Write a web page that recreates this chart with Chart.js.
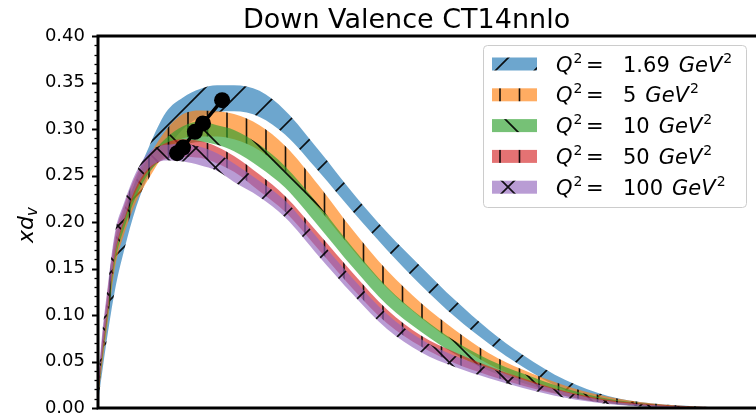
<!DOCTYPE html>
<html>
<head>
<meta charset="utf-8">
<script src="https://cdn.jsdelivr.net/npm/chart.js@4.4.0/dist/chart.umd.min.js"></script>
<style>
  html, body { margin: 0; padding: 0; background: #fff; }
  body { width: 756px; height: 415px; overflow: hidden; position: relative; }
  #plot { position: absolute; left: 0; top: 0; }
</style>
</head>
<body>
<canvas id="plot" width="960" height="450"></canvas>
<script>
const FONT = '"DejaVu Sans", sans-serif';

// momentum fraction x shared by every band
const xGrid = [0.001, 0.005, 0.01, 0.02, 0.03, 0.045, 0.06, 0.08, 0.10, 0.12, 0.14, 0.16, 0.19,
  0.22, 0.26, 0.30, 0.34, 0.38, 0.42, 0.46, 0.50, 0.55, 0.60, 0.65, 0.70, 0.75, 0.80];

const q2Labels = ['1.69', '5', '10', '50', '100'];

// x*d_v error bands, upper and lower edge per Q^2
const upper169 = [0.030, 0.060, 0.097, 0.161, 0.200, 0.247, 0.281, 0.318, 0.334, 0.343, 0.347, 0.347, 0.341,
  0.320, 0.277, 0.231, 0.189, 0.152, 0.116, 0.084, 0.057, 0.030, 0.013, 0.005, 0.002, 0.0004, 0];
const lower169 = [0.013, 0.039, 0.071, 0.127, 0.167, 0.216, 0.251, 0.277, 0.300, 0.313, 0.318, 0.319, 0.313,
  0.294, 0.254, 0.211, 0.170, 0.132, 0.098, 0.069, 0.044, 0.019, 0.006, 0.0013, 0, 0, 0];

const upper5 = [0.032, 0.067, 0.105, 0.173, 0.205, 0.241, 0.270, 0.299, 0.316, 0.320, 0.319, 0.316, 0.304,
  0.282, 0.239, 0.191, 0.148, 0.113, 0.084, 0.059, 0.041, 0.024, 0.012, 0.005, 0.0016, 0.0004, 0];
const lower5 = [0.017, 0.047, 0.082, 0.151, 0.185, 0.222, 0.247, 0.275, 0.290, 0.292, 0.292, 0.289, 0.277,
  0.255, 0.214, 0.170, 0.129, 0.097, 0.070, 0.047, 0.031, 0.016, 0.007, 0.002, 0, 0, 0];

const upper10 = [0.034, 0.071, 0.111, 0.178, 0.211, 0.245, 0.269, 0.290, 0.303, 0.308, 0.304, 0.299, 0.283,
  0.260, 0.218, 0.172, 0.130, 0.098, 0.072, 0.052, 0.037, 0.021, 0.010, 0.0043, 0.0013, 0.0003, 0];
const lower10 = [0.019, 0.052, 0.087, 0.157, 0.191, 0.228, 0.253, 0.271, 0.282, 0.286, 0.283, 0.276, 0.259,
  0.237, 0.195, 0.151, 0.111, 0.082, 0.058, 0.040, 0.027, 0.013, 0.005, 0.001, 0, 0, 0];

const upper50 = [0.035, 0.075, 0.116, 0.185, 0.216, 0.251, 0.272, 0.285, 0.289, 0.287, 0.281, 0.271, 0.251,
  0.228, 0.187, 0.145, 0.106, 0.078, 0.060, 0.045, 0.032, 0.018, 0.009, 0.0043, 0.0016, 0.0005, 0];
const lower50 = [0.0215, 0.056, 0.092, 0.163, 0.198, 0.234, 0.256, 0.268, 0.270, 0.269, 0.263, 0.254, 0.233,
  0.211, 0.170, 0.128, 0.091, 0.066, 0.048, 0.035, 0.024, 0.013, 0.005, 0.002, 0, 0, 0];

const upper100 = [0.040, 0.081, 0.120, 0.189, 0.219, 0.254, 0.275, 0.283, 0.284, 0.281, 0.274, 0.263, 0.244,
  0.223, 0.181, 0.139, 0.101, 0.074, 0.056, 0.043, 0.030, 0.017, 0.0075, 0.0032, 0.001, 0.0003, 0];
const lower100 = [0.024, 0.059, 0.097, 0.167, 0.201, 0.238, 0.258, 0.266, 0.265, 0.261, 0.255, 0.243, 0.227,
  0.205, 0.163, 0.122, 0.085, 0.060, 0.044, 0.032, 0.0215, 0.011, 0.0043, 0.001, 0, 0, 0];

// position of each band's maximum, joined by the black line
const peakX = [0.146, 0.1235, 0.114, 0.100, 0.093];
const peakY = [0.331, 0.306, 0.297, 0.280, 0.274];

const bandColors = ['rgba(31,119,180,0.65)', 'rgba(255,127,14,0.65)', 'rgba(44,160,44,0.65)',
  'rgba(214,39,40,0.65)', 'rgba(148,103,189,0.65)'];
const hatches = ['/', '|', '\\', '|', 'x'];

// colour fill with sparse black hatching on top; offsets set where the strokes fall
function hatchPattern(color, kind) {
  const s = 39;
  const c = document.createElement('canvas');
  c.width = s; c.height = s;
  const g = c.getContext('2d');
  g.fillStyle = color;
  g.fillRect(0, 0, s, s);
  g.strokeStyle = 'rgba(0,0,0,0.9)';
  g.lineWidth = 1.6;
  g.beginPath();
  const rising = off => {
    for (const k of [off - s, off, off + s]) { g.moveTo(k + 3, -3); g.lineTo(k - s - 3, s + 3); }
  };
  const falling = off => {
    for (const k of [off - s, off, off + s]) { g.moveTo(k - 3, -3); g.lineTo(k + s + 3, s + 3); }
  };
  if (kind === '/') rising(20);
  if (kind === '\\') falling(35);
  if (kind === 'x') { rising(32); falling(9); }
  if (kind === '|') {
    for (const k of [12.5, 32]) { g.moveTo(k, 0); g.lineTo(k, s); }
  }
  g.stroke();
  return g.createPattern(c, 'repeat');
}

const ctx = document.getElementById('plot').getContext('2d');
const patterns = bandColors.map((c, i) => hatchPattern(c, hatches[i]));
const bands = [[upper169, lower169], [upper5, lower5], [upper10, lower10], [upper50, lower50], [upper100, lower100]];
const toPts = arr => xGrid.map((x, i) => ({ x, y: arr[i] }));

const datasets = [{
  data: peakX.map((x, i) => ({ x, y: peakY[i] })),
  borderColor: '#000',
  borderWidth: 3.5,
  pointRadius: 8,
  pointBackgroundColor: '#000',
  pointBorderWidth: 0,
  fill: false,
  order: 0
}];
bands.forEach(([up, lo], i) => {
  const order = 10 - i;
  datasets.push({ data: toPts(up), borderColor: 'rgba(0,0,0,0)', borderWidth: 0, pointRadius: 0,
    fill: false, order, cubicInterpolationMode: 'monotone' });
  datasets.push({ data: toPts(lo), borderColor: 'rgba(0,0,0,0)', borderWidth: 0, pointRadius: 0,
    fill: '-1', backgroundColor: patterns[i], order, cubicInterpolationMode: 'monotone' });
});

function sup(c, text, x, base) {
  c.font = '14px ' + FONT;
  c.fillText(text, x, base - 9);
  return x + c.measureText(text).width;
}

function legendLabel(c, x, base, value) {
  c.font = 'italic 21px ' + FONT;
  c.fillText('Q', x, base);
  sup(c, '2', x + c.measureText('Q').width + 1, base);
  c.font = '21px ' + FONT;
  c.fillText('=', x + 30, base);
  c.fillText(value, x + 67, base);
  let cx = x + 67 + c.measureText(value).width + 9;
  c.font = 'italic 21px ' + FONT;
  c.fillText('GeV', cx, base);
  cx += c.measureText('GeV').width + 1;
  sup(c, '2', cx, base);
}

const decorations = {
  id: 'decorations',
  afterDraw(chart) {
    const c = chart.ctx;
    const a = chart.chartArea;
    const y = chart.scales.y;
    c.save();
    c.strokeStyle = '#000';
    c.fillStyle = '#000';

    // outward ticks on the left spine
    y.ticks.forEach(t => {
      const py = Math.round(y.getPixelForValue(t.value)) + 0.5;
      const major = t.label !== '';
      c.lineWidth = major ? 2 : 1.3;
      c.beginPath();
      c.moveTo(a.left, py);
      c.lineTo(a.left - (major ? 6 : 3.5), py);
      c.stroke();
    });

    c.lineWidth = 3;
    c.strokeRect(a.left, a.top, a.right - a.left, a.bottom - a.top);

    // title
    c.font = '27px ' + FONT;
    c.textAlign = 'left';
    c.textBaseline = 'alphabetic';
    c.fillText('Down Valence CT14nnlo', 243, 28);

    // y axis label x d_v
    c.save();
    c.translate(33, 225);
    c.rotate(-Math.PI / 2);
    c.font = 'italic 22px ' + FONT;
    const w1 = c.measureText('xd').width;
    c.font = 'italic 15px ' + FONT;
    const w2 = c.measureText('v').width;
    const x0 = -(w1 + w2) / 2;
    c.font = 'italic 22px ' + FONT;
    c.fillText('xd', x0, 0);
    c.font = 'italic 15px ' + FONT;
    c.fillText('v', x0 + w1, 4);
    c.restore();

    // legend
    c.beginPath();
    c.roundRect(483.5, 45.5, 263, 162, 4);
    c.fillStyle = 'rgba(255,255,255,0.8)';
    c.fill();
    c.strokeStyle = '#cccccc';
    c.lineWidth = 1;
    c.stroke();
    q2Labels.forEach((q, i) => {
      const cy = 64 + i * 30.8;
      c.fillStyle = patterns[i];
      c.fillRect(492, cy - 6.5, 45, 13);
      c.fillStyle = '#000';
      legendLabel(c, 556, cy + 7.5, q);
    });
    c.restore();
  }
};

new Chart(ctx, {
  type: 'line',
  data: { datasets },
  options: {
    responsive: false,
    animation: false,
    events: [],
    layout: { padding: { top: 36, right: 12, bottom: 42, left: 0 } },
    plugins: { legend: { display: false }, tooltip: { enabled: false } },
    scales: {
      x: { type: 'linear', min: 0, max: 1, display: false },
      y: {
        min: 0,
        max: 0.4,
        afterFit: s => { s.width = 98; },
        grid: { display: false, drawTicks: false },
        border: { display: false },
        ticks: {
          stepSize: 0.01,
          autoSkip: false,
          padding: 13,
          color: '#000',
          font: { family: FONT, size: 18 },
          callback: v => (Math.round(v * 100) % 5 === 0 ? v.toFixed(2) : '')
        }
      }
    }
  },
  plugins: [decorations]
});
</script>
</body>
</html>
